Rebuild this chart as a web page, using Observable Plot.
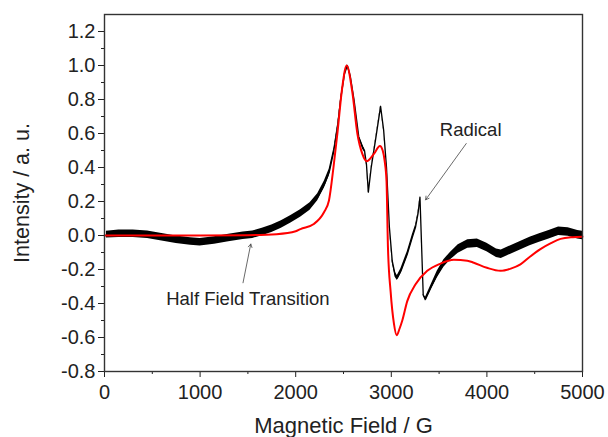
<!DOCTYPE html>
<html>
<head>
<meta charset="utf-8">
<script src="https://cdn.jsdelivr.net/npm/d3@7"></script>
<script src="https://cdn.jsdelivr.net/npm/@observablehq/plot@0.6"></script>
<style>
  html, body { margin: 0; padding: 0; background: #fff; }
  #chart { width: 608px; height: 437px; }
  svg { font-family: "Liberation Sans", Arial, sans-serif; }
</style>
</head>
<body>
<div id="chart"></div>
<script>
// Experimental spectrum (black): field (G), intensity, noise half-width
const expField = [20,150,300,450,600,750,900,1000,1150,1300,1450,1550,1650,1750,1850,1950,2050,2150,2230,2300,2350,2400,2440,2470,2510,2540,2570,2610,2660,2700,2720,2740,2760,2790,2840,2888,2920,2950,2980,3010,3040,3063,3100,3167,3220,3254,3280,3300,3334,3358,3420,3480,3550,3620,3700,3800,3900,4000,4100,4150,4250,4350,4450,4550,4650,4750,4850,4950,5000];
const expIntensity = [0.005,0.01,0.01,0.005,-0.01,-0.025,-0.035,-0.04,-0.03,-0.015,-0.002,0.005,0.02,0.04,0.065,0.095,0.13,0.17,0.225,0.30,0.37,0.50,0.65,0.80,0.95,1.0,0.94,0.80,0.58,0.52,0.50,0.42,0.255,0.40,0.58,0.76,0.62,0.40,0.05,-0.15,-0.23,-0.25,-0.21,-0.11,-0.01,0.05,0.13,0.225,-0.35,-0.375,-0.30,-0.23,-0.165,-0.12,-0.08,-0.05,-0.045,-0.07,-0.105,-0.11,-0.085,-0.06,-0.035,-0.015,0.005,0.025,0.02,0.005,0.0];
const expNoise = [0.02,0.022,0.022,0.022,0.022,0.022,0.022,0.022,0.022,0.022,0.022,0.022,0.022,0.022,0.022,0.022,0.022,0.022,0.02,0.02,0.02,0.015,0.01,0.008,0.006,0.005,0.006,0.008,0.01,0.012,0.01,0.005,0.005,0.005,0.005,0.005,0.005,0.005,0.005,0.01,0.015,0.015,0.015,0.015,0.015,0.012,0.008,0.004,0.004,0.012,0.015,0.02,0.022,0.022,0.025,0.025,0.025,0.025,0.025,0.025,0.025,0.025,0.025,0.025,0.025,0.025,0.025,0.025,0.025];

// Simulated spectrum (red)
const simField = [0,500,1000,1500,1800,2000,2050,2190,2296,2348,2395,2436,2488,2533,2593,2645,2697,2742,2818,2881,2910,2930,2950,2965,2993,3028,3056,3085,3115,3167,3254,3376,3515,3654,3795,3863,4000,4142,4250,4351,4450,4560,4670,4770,4900,5000];
const simIntensity = [0,0,0,0.002,0.008,0.025,0.038,0.068,0.137,0.206,0.40,0.60,0.876,1.0,0.84,0.60,0.48,0.437,0.48,0.527,0.50,0.44,0.32,-0.07,-0.33,-0.52,-0.587,-0.55,-0.50,-0.386,-0.287,-0.208,-0.165,-0.143,-0.148,-0.16,-0.19,-0.208,-0.195,-0.17,-0.125,-0.08,-0.045,-0.02,-0.01,-0.007];

// Axis ticks
const xMajor = [0,1000,2000,3000,4000,5000];
const xMinor = [500,1500,2500,3500,4500];
const yMajor = [-0.8,-0.6,-0.4,-0.2,0,0.2,0.4,0.6,0.8,1.0,1.2];
const yMinor = [-0.7,-0.5,-0.3,-0.1,0.1,0.3,0.5,0.7,0.9,1.1];

// Annotations
const noteText = ["Radical", "Half Field Transition"];
const noteX = [3830, 1500];
const noteY = [0.62, -0.374];
const arrowX1 = [3784, 1449];
const arrowY1 = [0.541, -0.278];
const arrowX2 = [3359, 1530];
const arrowY2 = [0.21, -0.05];

const exp = expField.map((x, i) => ({x, y: expIntensity[i], lo: expIntensity[i] - expNoise[i], hi: expIntensity[i] + expNoise[i]}));
const sim = simField.map((x, i) => ({x, y: simIntensity[i]}));
const notes = noteText.map((t, i) => ({t, x: noteX[i], y: noteY[i]}));
const arrows = arrowX1.map((x1, i) => ({x1, y1: arrowY1[i], x2: arrowX2[i], y2: arrowY2[i]}));

const chart = Plot.plot({
  width: 608,
  height: 437,
  marginLeft: 104,
  marginRight: 26,
  marginTop: 14,
  marginBottom: 66,
  style: {fontFamily: "'Liberation Sans', Arial, sans-serif", color: "#222", background: "#fff"},
  x: {domain: [0, 5000]},
  y: {domain: [-0.8, 1.3]},
  marks: [
    Plot.areaY(exp, {x: "x", y1: "lo", y2: "hi", fill: "#000", curve: "linear"}),
    Plot.line(exp, {x: "x", y: "y", stroke: "#000", strokeWidth: 1.3}),
    Plot.line(sim, {x: "x", y: "y", stroke: "#ff0000", strokeWidth: 2, curve: "monotone-x"}),
    Plot.arrow(arrows, {x1: "x1", y1: "y1", x2: "x2", y2: "y2", stroke: "#444", strokeWidth: 0.8, headLength: 7}),
    Plot.text(notes, {x: "x", y: "y", text: "t", fontSize: 18.5, fill: "#222"}),
    Plot.axisX(xMajor, {tickSize: 6, tickPadding: 7, fontSize: 20, tickFormat: d => String(d), label: null}),
    Plot.axisX(xMinor, {tickSize: 3, tickFormat: () => "", label: null}),
    Plot.axisY(yMajor, {tickSize: 6, tickPadding: 3, fontSize: 20, tickFormat: d => d.toFixed(1), label: null}),
    Plot.axisY(yMinor, {tickSize: 3, tickFormat: () => "", label: null}),
    Plot.frame({stroke: "#333", strokeWidth: 1.4}),
    Plot.text(["Magnetic Field / G"], {frameAnchor: "bottom", dy: 61, fontSize: 22, fill: "#222"}),
    Plot.text(["Intensity / a. u."], {frameAnchor: "left", textAnchor: "middle", dx: -82, rotate: -90, fontSize: 21.5, fill: "#222"})
  ]
});
document.getElementById("chart").appendChild(chart);
</script>
</body>
</html>
